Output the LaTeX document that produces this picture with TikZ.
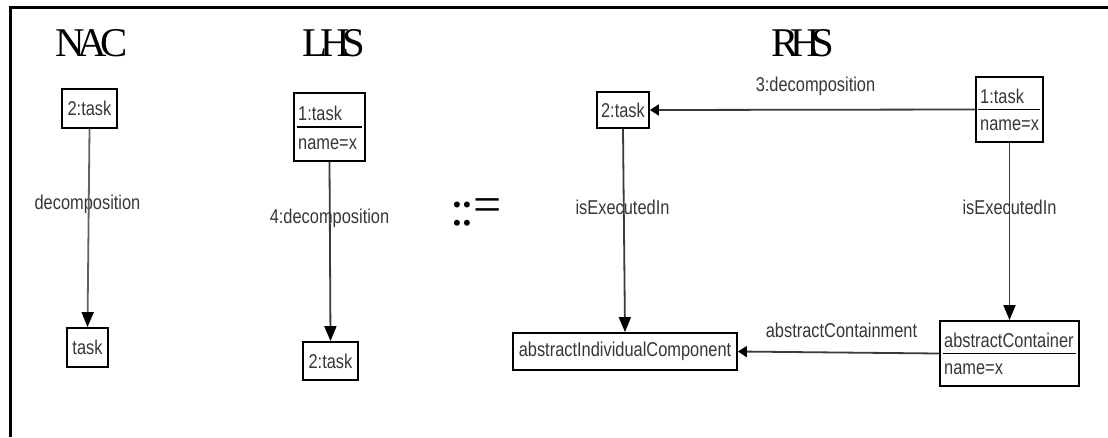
\documentclass[tikz,border=0pt]{standalone}
\usepackage{fontspec}
\usetikzlibrary{arrows.meta}
\newfontfamily\labfont{Liberation Sans}[FakeStretch=0.82]
\newfontfamily\titfont{Liberation Serif}
\definecolor{txt}{HTML}{363636}
\definecolor{edge}{HTML}{3A3A3A}
\definecolor{edgelight}{HTML}{626262}
\begin{document}
\begin{tikzpicture}[x=1pt,y=-1pt,
  lab/.style={font=\labfont\fontsize{20}{22}\selectfont, text=txt, inner sep=0pt},
  tit/.style={font=\titfont\fontsize{40.8}{44}\selectfont, text=black, inner sep=0pt, anchor=base},
  obj/.style={draw=black, line width=1.8pt, inner sep=0pt, font=\labfont\fontsize{20}{22}\selectfont, text=txt},
  divider/.style={draw=black, line width=1.8pt},
  varrow/.style={draw=edge, line width=1.8pt, -{Triangle[length=15pt,width=12pt,color=black]}},
  harrow/.style={draw=edge, line width=1.8pt, -{Triangle[length=9pt,width=11pt,color=black]}},
  framestyle/.style={draw=black, line width=3pt}
]
\path[use as bounding box] (0,0) rectangle (1108,437);

% frame
\coordinate (fa) at (1108,7.5);
\coordinate (fb) at (10.5,7.5);
\coordinate (fc) at (10.5,437);
\draw[framestyle] (fa) -- (fb) -- (fc);

% titles
\node[tit] (tnac) at (91.5,56) {N\kern-.17em A\kern-.17em C};
\node[tit] (tlhs) at (334,56) {L\kern-.18em H\kern-.18em S};
\node[tit] (trhs) at (803,56) {R\kern-.2em H\kern-.2em S};

% ::=
\node[font=\titfont\fontsize{50}{54}\selectfont, inner sep=0pt, anchor=base] (assign) at (476,225) {:\kern-4pt:\kern-1pt\raisebox{4pt}{=}};

% NAC
\node[obj, minimum width=55, minimum height=39] (n2) at (89.5,108.5) {2:task};
\node[obj, minimum width=41, minimum height=39] (nt) at (87.5,347.5) {task};
\node[lab] (lbn) at (87.5,204) {decomposition};
\draw[varrow, draw=edgelight] (n2.south) -- (nt.north);

% LHS
\node[obj, minimum width=71, minimum height=68] (l1) at (329.5,127) {};
\node[lab, anchor=west] (l1a) at (298,113) {1:task};
\node[lab, anchor=west] (l1b) at (298,144) {name=x};
\draw[divider] ([xshift=4pt]l1.west) -- ([xshift=-4pt]l1.east);
\node[obj, minimum width=55, minimum height=38] (l2) at (330.5,361) {2:task};
\node[lab] (lbl) at (329.5,218) {4:decomposition};
\draw[varrow] (l1.south) -- (l2.north);

% RHS
\node[obj, minimum width=52, minimum height=36] (r2) at (623,110) {2:task};
\node[obj, minimum width=67, minimum height=65] (r1) at (1009.5,109.5) {};
\node[lab, anchor=west] (r1a) at (980,96) {1:task};
\node[lab, anchor=west] (r1b) at (980,125.5) {name=x};
\draw[divider] ([xshift=3pt]r1.west) -- ([xshift=-4pt]r1.east);

\node[obj, minimum width=224, minimum height=37] (aic) at (625,351.5) {abstractIndividualComponent};
\node[obj, minimum width=139, minimum height=65] (ac) at (1009.5,353.5) {};
\node[lab, anchor=west] (aca) at (944,340) {abstractContainer};
\node[lab, anchor=west] (acb) at (944,369.5) {name=x};
\draw[divider] ([xshift=4pt]ac.west) -- ([xshift=-4pt]ac.east);

\node[lab] (lb3) at (815.5,86) {3:decomposition};
\node[lab] (lb4) at (622.5,207) {isExecutedIn};
\node[lab] (lb5) at (1009.5,207) {isExecutedIn};
\node[lab] (lb6) at (841.5,330) {abstractContainment};

\draw[harrow] (r1.west) -- (r2.east);
\draw[varrow] (r2.south) -- (aic.north);
\draw[varrow] (r1.south) -- (ac.north);
\draw[harrow] (ac.west) -- (aic.east);
\end{tikzpicture}
\end{document}
